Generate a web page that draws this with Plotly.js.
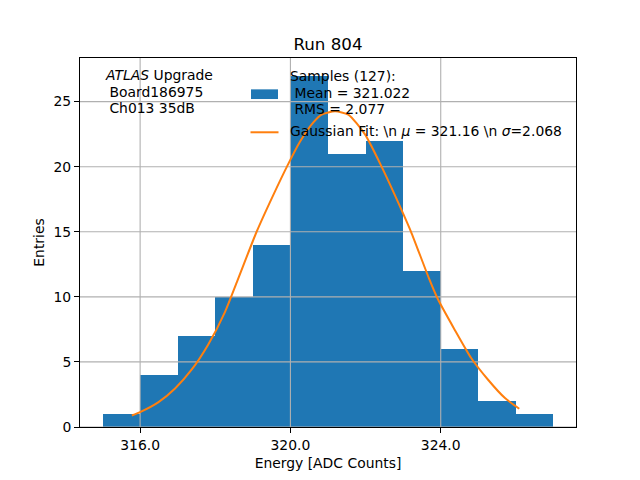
<!DOCTYPE html>
<html>
<head>
<meta charset="utf-8">
<script src="https://cdn.plot.ly/plotly-3.0.1.min.js"></script>
<style>html,body{margin:0;padding:0;background:#fff;}#chart{width:640px;height:480px;}</style>
</head>
<body>
<div id="chart"></div>
<script>
// Histogram bins (left edges, width 1) and counts
const binLeft = [315, 316, 317, 318, 319, 320, 321, 322, 323, 324, 325, 326];
const binWidth = 1;
const counts = [1, 4, 7, 10, 14, 27, 21, 22, 12, 6, 2, 1];

// Gaussian fit curve
const fitX = [315.78, 316.0, 316.48, 316.93, 317.37, 317.81, 318.26, 318.59, 319.10, 319.54, 319.94, 320.25, 320.61, 320.83, 321.19, 321.54, 321.98, 322.41, 323.0, 323.21, 323.69, 323.92, 324.37, 324.81, 325.26, 325.71, 326.09];
const fitY = [0.88, 1.14, 1.89, 2.96, 4.40, 6.32, 8.85, 11.25, 15.0, 17.8, 20.2, 21.9, 23.4, 24.0, 24.25, 24.0, 22.5, 20.1, 16.4, 15.0, 11.4, 9.85, 7.48, 5.30, 3.63, 2.22, 1.40];

const xTicks = [316, 320, 324];
const xTickText = ["316.0", "320.0", "324.0"];
const yTicks = [0, 5, 10, 15, 20, 25];
const xRange = [314.4, 327.6];
const yRange = [0, 28.35];

const titleText = "Run 804";
const xTitle = "Energy [ADC Counts]";
const yTitle = "Entries";
const histLines = ["Samples (127):", "\u00A0Mean = 321.022", "\u00A0RMS = 2.077"];
const fitLabel = "Gaussian Fit: \\n <i>\u03BC</i> = 321.16 \\n <i>\u03C3</i>=2.068";
const infoLines = ["<i>ATLAS</i> Upgrade", "\u00A0Board186975", "\u00A0Ch013 35dB"];

const font = "DejaVu Sans, sans-serif";
const gridColor = "#b0b0b0";
const barColor = "#1f77b4";
const fitColor = "#ff7f0e";

// pixel -> paper helpers for the plot area (l=80, t=57.6, w=496, h=369.6)
const PL = 80, PT = 57.6, PW = 496, PH = 369.6;
const px = v => (v - PL) / PW;
const py = v => 1 - (v - PT) / PH;

// grid lines as traces so they sit above bars but below the fit line
const gx = [], gy = [];
xTicks.forEach(v => { gx.push(v, v, null); gy.push(yRange[0], yRange[1], null); });
yTicks.forEach(v => { gx.push(xRange[0], xRange[1], null); gy.push(v, v, null); });

const traces = [
  {
    type: "bar",
    x: binLeft,
    y: counts,
    width: binLeft.map(() => binWidth),
    offset: 0,
    marker: {color: barColor, line: {width: 0}},
    showlegend: false,
    hoverinfo: "x+y"
  },
  {
    type: "scatter",
    mode: "lines",
    x: gx,
    y: gy,
    line: {color: gridColor, width: 1.1},
    showlegend: false,
    hoverinfo: "skip",
    connectgaps: false
  },
  {
    type: "scatter",
    mode: "lines",
    x: fitX,
    y: fitY,
    line: {color: fitColor, width: 2, shape: "spline", smoothing: 0.6},
    showlegend: false
  }
];

const textFont = {family: font, size: 13.9, color: "#000"};
const annotations = [];
infoLines.forEach((t, i) => annotations.push({
  text: t, xref: "paper", yref: "paper",
  x: px(103), y: py([75, 91.7, 107.3][i]),
  xanchor: "left", yanchor: "middle", align: "left",
  showarrow: false, font: textFont
}));
histLines.forEach((t, i) => annotations.push({
  text: t, xref: "paper", yref: "paper",
  x: px(288), y: py([76, 92.2, 109][i]),
  xanchor: "left", yanchor: "middle", align: "left",
  showarrow: false, font: textFont
}));
annotations.push({
  text: fitLabel, xref: "paper", yref: "paper",
  x: px(288), y: py(131.2),
  xanchor: "left", yanchor: "middle", align: "left",
  showarrow: false, font: textFont
});

const shapes = [
  {type: "rect", xref: "paper", yref: "paper",
   x0: px(251), x1: px(278), y0: py(98.7), y1: py(89),
   fillcolor: barColor, line: {width: 0}},
  {type: "line", xref: "paper", yref: "paper",
   x0: px(250.5), x1: px(278.5), y0: py(132), y1: py(132),
   line: {color: fitColor, width: 2}}
];

const layout = {
  width: 640,
  height: 480,
  paper_bgcolor: "#fff",
  plot_bgcolor: "#fff",
  font: textFont,
  margin: {l: 80, r: 64, t: 57.6, b: 52.8, pad: 0},
  bargap: 0,
  showlegend: false,
  title: {
    text: titleText,
    font: {family: font, size: 16.7, color: "#000"},
    x: 0.5, xref: "paper", xanchor: "center",
    y: 1 - 44 / 480, yref: "container", yanchor: "middle"
  },
  xaxis: {
    range: xRange,
    tickvals: xTicks,
    ticktext: xTickText,
    showgrid: false,
    zeroline: false,
    showline: true, mirror: true, linecolor: "#000", linewidth: 1,
    ticks: "outside", ticklen: 5, tickwidth: 1, tickcolor: "#000",
    tickfont: textFont,
    title: {text: xTitle, font: textFont, standoff: 6}
  },
  yaxis: {
    range: yRange,
    tickvals: yTicks,
    showgrid: false,
    zeroline: false,
    showline: true, mirror: true, linecolor: "#000", linewidth: 1,
    ticks: "outside", ticklen: 5, tickwidth: 1, tickcolor: "#000",
    tickfont: textFont,
    title: {text: yTitle, font: textFont, standoff: 5}
  },
  annotations: annotations,
  shapes: shapes
};

Plotly.newPlot("chart", traces, layout, {displayModeBar: false, staticPlot: true});
</script>
</body>
</html>
